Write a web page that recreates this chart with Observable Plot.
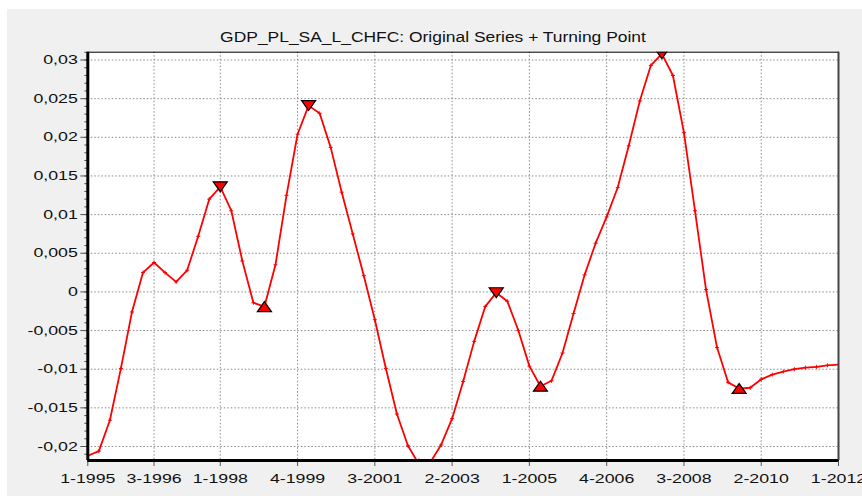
<!DOCTYPE html>
<html>
<head>
<meta charset="utf-8">
<script src="https://cdn.jsdelivr.net/npm/d3@7"></script>
<script src="https://cdn.jsdelivr.net/npm/@observablehq/plot@0.6"></script>
<style>
  html, body { margin: 0; padding: 0; background: #ffffff; }
  #page { position: relative; width: 862px; height: 496px; overflow: hidden; background: #ffffff; }
  #panel { position: absolute; left: 7px; top: 9px; right: 0; bottom: 0; background: #f0f0f0; }
  #chart { position: absolute; left: 0; top: 0; }
  #title { position: absolute; left: 0; top: 28px; width: 866px; text-align: center;
           font-family: "Liberation Sans", Arial, sans-serif; font-size: 14px; line-height: 18px; color: #111; }
  #title span { display: inline-block; transform: scaleX(1.245); transform-origin: center; }
</style>
</head>
<body>
<div id="page">
  <div id="panel"></div>
  <div id="chart"></div>
  <div id="title"><span>GDP_PL_SA_L_CHFC: Original Series + Turning Point</span></div>
</div>
<script>
// Quarterly series, 1-1995 ... 1-2012 (index 0 = first quarter 1995)
const values = [
  -0.0212, -0.0206, -0.0166, -0.0099, -0.0026, 0.0025, 0.0038, 0.0025,
   0.0013,  0.0028,  0.0072,  0.0120,  0.0136, 0.0105, 0.0040, -0.0014,
  -0.0019,  0.0035,  0.0125,  0.0204,  0.0241, 0.0231, 0.0187, 0.0129,
   0.0075,  0.0021, -0.0036, -0.0099, -0.0158, -0.0199, -0.0223, -0.0221,
  -0.0198, -0.0164, -0.0116, -0.0064, -0.0019, -0.0001, -0.0012, -0.0050,
  -0.0096, -0.0122, -0.0115, -0.0079, -0.0028,  0.0022,  0.0063,  0.0097,
   0.0135,  0.0189,  0.0247,  0.0293,  0.0308,  0.0280,  0.0206,  0.0105,
   0.0003, -0.0072, -0.0117, -0.0125, -0.0124, -0.0113, -0.0107, -0.0103,
  -0.0100, -0.0098, -0.0097, -0.0095, -0.0094
];
const peakIndex = [12, 20, 37, 52];
const troughIndex = [16, 30, 41, 59];
const xTickLabels = ["1-1995", "3-1996", "1-1998", "4-1999", "3-2001", "2-2003",
                     "1-2005", "4-2006", "3-2008", "2-2010", "1-2012"];
const yTickValues = [-0.02, -0.015, -0.01, -0.005, 0, 0.005, 0.01, 0.015, 0.02, 0.025, 0.03];
const yDomain = [-0.02181, 0.03101];

const firstYear = 1995;
const labelToIndex = s => { const [q, y] = s.split("-").map(Number); return (y - firstYear) * 4 + (q - 1); };
const xTicks = xTickLabels.map(labelToIndex);
const labelOf = new Map(xTickLabels.map(s => [labelToIndex(s), s]));
const data = values.map((v, i) => ({i, v}));
const peaks = peakIndex.map(i => data[i]);
const troughs = troughIndex.map(i => data[i]);
const minorTicks = d3.range(-21, 32).map(k => k / 1000);
const fmtY = d => d === 0 ? "0" : String(+d.toFixed(3)).replace(".", ",");

const triDown = { draw(ctx, size) { const r = Math.sqrt(size / Math.PI), w = r * 1.35, h = r * 0.95;
  ctx.moveTo(-w, -h); ctx.lineTo(w, -h); ctx.lineTo(0, h); ctx.closePath(); } };
const triUp = { draw(ctx, size) { const r = Math.sqrt(size / Math.PI), w = r * 1.35, h = r * 0.95;
  ctx.moveTo(-w, h); ctx.lineTo(w, h); ctx.lineTo(0, -h); ctx.closePath(); } };

const svg = Plot.plot({
  width: 862,
  height: 496,
  marginLeft: 87.3,
  marginRight: 24,
  marginTop: 51.7,
  marginBottom: 36,
  style: { background: "transparent", fontFamily: "'Liberation Sans', Arial, sans-serif", fontSize: "12.5px", color: "#111" },
  x: { domain: [0, values.length - 1] },
  y: { domain: yDomain },
  marks: [
    Plot.frame({ fill: "white", stroke: null }),
    Plot.gridY(yTickValues, { stroke: "#8a8a8a", strokeOpacity: 1, strokeDasharray: "1.5,2" }),
    Plot.gridX(xTicks, { stroke: "#8a8a8a", strokeOpacity: 1, strokeDasharray: "1.5,2" }),
    Plot.axisY(minorTicks, { tickSize: 3, tickFormat: () => "", label: null, stroke: "#555" }),
    Plot.axisY(yTickValues, { tickSize: 7, tickPadding: 3, tickFormat: fmtY, label: null, stroke: "#555" }),
    Plot.axisX(xTicks, { tickSize: 6, tickPadding: 8, tickFormat: i => labelOf.get(i), label: null, stroke: "#555" }),
    Plot.line(data, { x: "i", y: "v", stroke: "#ff0000", strokeWidth: 1.8, clip: true }),
    Plot.dot(data, { x: "i", y: "v", symbol: "plus", r: 1.4, stroke: "#ff0000", strokeWidth: 1, clip: true }),
    Plot.dot(peaks, { x: "i", y: "v", symbol: triDown, r: 5.2, fill: "#ff0000", stroke: "#000", strokeWidth: 1.2, clip: true }),
    Plot.dot(troughs, { x: "i", y: "v", symbol: triUp, r: 5.2, fill: "#ff0000", stroke: "#000", strokeWidth: 1.2, clip: true }),
    Plot.frame({ stroke: "#000", strokeWidth: 1 }),
    Plot.ruleX([values.length - 1], { stroke: "#444", strokeWidth: 2 }),
    Plot.ruleX([0], { stroke: "#000", strokeWidth: 3 }),
    Plot.ruleY([yDomain[0]], { stroke: "#000", strokeWidth: 3 })
  ]
});
document.getElementById("chart").append(svg);
svg.querySelectorAll("text").forEach(t => {
  const L = t.getComputedTextLength();
  if (L > 0) { t.setAttribute("textLength", (L * 1.42).toFixed(1)); t.setAttribute("lengthAdjust", "spacingAndGlyphs"); }
});
</script>
</body>
</html>
